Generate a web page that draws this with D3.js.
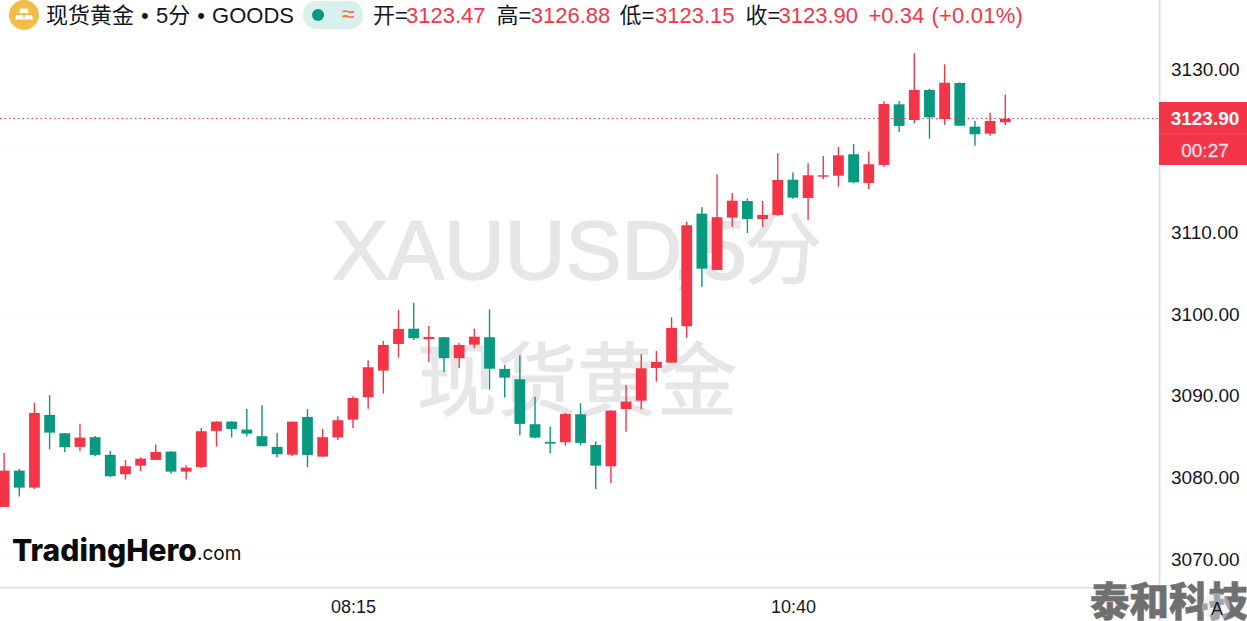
<!DOCTYPE html>
<html><head><meta charset="utf-8">
<script src="https://cdn.jsdelivr.net/npm/d3@7"></script>
<style>
html,body{margin:0;padding:0;background:#fff;overflow:hidden}
svg{display:block}
text{font-family:"Liberation Sans","Noto Sans CJK SC",sans-serif}
</style></head><body><svg id="c" width="1247" height="621"></svg>
<script>
const opens =[3076.32,3080.77,3078.69,3087.60,3085.35,3083.68,3084.87,3082.70,3080.33,3081.38,3082.08,3083.10,3080.65,3081.22,3085.64,3086.78,3085.80,3084.99,3083.68,3082.73,3087.35,3082.49,3084.84,3087.02,3089.77,3093.03,3096.30,3098.17,3096.88,3097.12,3094.55,3096.21,3097.12,3093.24,3091.97,3086.46,3084.29,3084.25,3087.68,3083.92,3081.31,3088.33,3089.35,3093.36,3094.01,3098.47,3112.27,3105.37,3111.78,3113.82,3111.62,3112.11,3116.43,3114.19,3116.80,3116.92,3119.55,3116.03,3118.24,3125.67,3123.75,3127.43,3123.87,3128.28,3122.93,3122.07,3123.47];
const highs =[3082.94,3080.98,3089.10,3090.01,3085.39,3086.53,3085.02,3083.19,3082.08,3082.41,3083.96,3083.15,3081.43,3086.00,3086.83,3086.83,3088.33,3088.79,3085.39,3086.78,3088.30,3085.88,3087.44,3089.89,3094.30,3096.67,3100.47,3101.36,3098.51,3097.16,3096.42,3098.17,3100.55,3093.73,3094.91,3089.84,3086.16,3087.84,3089.03,3084.38,3088.17,3091.27,3095.04,3095.44,3099.57,3111.25,3113.05,3117.10,3114.80,3114.15,3113.82,3119.67,3117.34,3118.44,3119.34,3120.44,3120.81,3119.89,3126.04,3126.08,3131.92,3127.55,3130.58,3128.37,3123.66,3124.65,3126.88];
const lows  =[3076.32,3077.59,3078.53,3083.39,3083.03,3083.15,3082.54,3080.00,3079.67,3080.70,3082.08,3080.40,3079.67,3081.07,3083.71,3084.82,3084.94,3083.76,3082.37,3082.57,3081.19,3082.45,3084.53,3086.00,3088.37,3090.21,3094.62,3096.79,3094.09,3092.87,3093.32,3095.77,3090.70,3089.72,3085.11,3084.74,3082.90,3083.84,3083.88,3078.49,3079.26,3085.55,3088.25,3091.68,3094.01,3097.07,3103.32,3105.37,3110.67,3109.90,3110.64,3111.98,3114.10,3111.50,3116.48,3115.58,3115.99,3115.29,3118.03,3122.28,3123.35,3121.46,3123.17,3123.05,3120.60,3121.83,3123.15];
const closes=[3080.77,3078.69,3087.84,3085.43,3083.64,3084.82,3082.70,3080.09,3081.31,3082.24,3083.06,3080.65,3081.14,3085.60,3086.78,3085.88,3085.31,3083.76,3082.78,3086.78,3082.70,3084.87,3086.95,3089.68,3093.44,3096.18,3098.14,3097.00,3097.16,3094.55,3096.18,3097.19,3093.27,3092.17,3086.50,3084.82,3084.08,3087.72,3084.17,3081.38,3088.13,3089.23,3093.32,3094.09,3098.26,3110.85,3105.53,3111.83,3113.86,3111.62,3112.11,3116.40,3114.23,3116.97,3116.97,3119.42,3116.11,3118.32,3125.71,3123.02,3127.43,3124.08,3128.32,3123.05,3122.00,3123.63,3123.90];
const priceTicks=[3070,3080,3090,3100,3110,3120,3130];
const timeTickIndex=[23,52];
const timeTickLabels=["08:15","10:40"];
const lastPrice=3123.90;
const countdown="00:27";
const headerTitle="现货黄金 • 5分 • GOODS";
const ohlcKeys=["开=","高=","低=","收="];
const ohlcValues=["3123.47","3126.88","3123.15","3123.90"];
const changeAbs="+0.34";
const changePct="(+0.01%)";

const RED="#f43548",GREEN="#089981",AXIS="#dfe2ec",WM="#e6e6e8";
const svg=d3.select("#c");
const x=d3.scaleLinear().domain([0,66]).range([4.1,1005.3]);
const y=d3.scaleLinear().domain([3070,3130]).range([558.5,69]);

// faint grid
svg.append("g").selectAll("line").data(priceTicks).join("line")
  .attr("x1",0).attr("x2",1159).attr("y1",d=>y(d)).attr("y2",d=>y(d)).attr("stroke","#fdfdfd");

// watermarks
const wm=svg.append("g").attr("fill",WM).attr("stroke",WM);
wm.append("text").attr("x",332).attr("y",279).attr("font-size",84).attr("stroke-width",1.6).text("XAUUSD");
wm.append("text").attr("x",672).attr("y",279).attr("font-size",84).attr("stroke-width",1.6).text(",");
wm.append("text").attr("x",700).attr("y",279).attr("font-size",84).attr("stroke-width",1.6).text("5");
wm.append("text").attr("x",744).attr("y",278).attr("font-size",78).attr("stroke-width",1).text("分");
wm.append("text").attr("x",417).attr("y",409).attr("font-size",80).attr("stroke-width",1.2).text("现货黄金");

// candles
const idx=d3.range(opens.length);
const col=i=>closes[i]>=opens[i]?RED:GREEN;
svg.append("g").selectAll("line").data(idx).join("line")
  .attr("x1",i=>x(i)).attr("x2",i=>x(i)).attr("y1",i=>y(highs[i])).attr("y2",i=>y(lows[i]))
  .attr("stroke",col).attr("stroke-width",1.4);
svg.append("g").selectAll("rect").data(idx).join("rect")
  .attr("x",i=>x(i)-5.4).attr("width",10.8)
  .attr("y",i=>y(Math.max(opens[i],closes[i])))
  .attr("height",i=>Math.max(1,Math.abs(y(opens[i])-y(closes[i]))))
  .attr("fill",col);

// last price line
const ly=Math.floor(y(lastPrice))+0.5;
svg.append("line").attr("x1",0).attr("x2",1159).attr("y1",ly).attr("y2",ly)
  .attr("stroke",RED).attr("stroke-width",1).attr("stroke-dasharray","1.5 3");

// axes
svg.append("rect").attr("x",0).attr("y",587).attr("width",1159).attr("height",1.5).attr("fill",AXIS);
svg.append("rect").attr("x",1158.5).attr("y",0).attr("width",2).attr("height",621).attr("fill",AXIS);

const yAxis=svg.append("g").attr("transform","translate(1171,0)")
  .call(d3.axisRight(y).tickValues(priceTicks).tickSize(0).tickPadding(0).tickFormat(d3.format(".2f")));
yAxis.select(".domain").remove();
yAxis.selectAll("text").attr("font-size",19).attr("fill","#131722")
  .style("font-family",'"Liberation Sans"').attr("dy","0.35em");
const xAxis=svg.append("g").attr("transform","translate(0,600)")
  .call(d3.axisBottom(x).tickValues(timeTickIndex).tickSize(0).tickPadding(0).tickFormat((d,i)=>timeTickLabels[i]));
xAxis.select(".domain").remove();
xAxis.selectAll("text").attr("font-size",18).attr("fill","#131722")
  .style("font-family",'"Liberation Sans"').attr("dy","0.71em");

// price label
svg.append("rect").attr("x",1159).attr("y",102).attr("width",88).attr("height",63).attr("fill",RED);
svg.append("line").attr("x1",1159).attr("x2",1247).attr("y1",134).attr("y2",134).attr("stroke","#f4505d");
svg.append("text").attr("x",1205).attr("y",125).attr("text-anchor","middle").attr("font-size",19).attr("font-weight",700).attr("fill","#fff").text(d3.format(".2f")(lastPrice));
svg.append("text").attr("x",1205).attr("y",157).attr("text-anchor","middle").attr("font-size",19)
  .attr("fill","#fcdde0").attr("stroke","#fcdde0").attr("stroke-width",0.35).text(countdown);

// header
svg.append("circle").attr("cx",24).attr("cy",15).attr("r",15).attr("fill","#f0bd45");
const gold=svg.append("g").attr("fill","#fff");
gold.append("path").attr("d","M20.5 8.5h7l1.2 4.5h-9.4z");
gold.append("path").attr("d","M16 15h7l1 4.5h-9z");
gold.append("path").attr("d","M25 15h7l1 4.5h-9z");
svg.append("text").attr("x",46).attr("y",23).attr("font-size",22).attr("word-spacing",1).attr("fill","#131722").text(headerTitle);
svg.append("rect").attr("x",303).attr("y",1).attr("width",60).attr("height",28).attr("rx",13).attr("fill","#daf0ec");
svg.append("circle").attr("cx",318).attr("cy",15).attr("r",6).attr("fill",GREEN);
svg.append("text").attr("x",348).attr("y",22).attr("text-anchor","middle").attr("font-size",24).attr("fill","#ff6d3f").text("≈");
const keyX=[373,496.5,619.5,745.5], valX=[406,530.7,655,778.5];
ohlcKeys.forEach((k,i)=>{
  svg.append("text").attr("x",keyX[i]).attr("y",23).attr("font-size",22).attr("fill","#131722").text(k);
  svg.append("text").attr("x",valX[i]).attr("y",23).attr("font-size",22).attr("fill",RED).text(ohlcValues[i]);
});
svg.append("text").attr("x",868.5).attr("y",23).attr("font-size",22).attr("fill",RED).text(changeAbs);
svg.append("text").attr("x",931.5).attr("y",23).attr("font-size",22).attr("letter-spacing",0.2).attr("fill",RED).text(changePct);

// logo
svg.append("text").attr("x",12).attr("y",561).attr("font-size",30).attr("font-weight",800)
  .style("font-family","Inter").attr("fill","#0c0c0c").text("TradingHero");
svg.append("text").attr("x",197).attr("y",560).attr("font-size",19)
  .style("font-family","Inter").attr("fill","#0c0c0c").text(".com");

// bottom-right overlay
svg.append("text").attr("x",1090).attr("y",616).attr("font-size",39.5).attr("font-weight",900)
  .style("font-family",'"Noto Sans CJK SC"').attr("fill","#707070").attr("stroke","#707070").attr("stroke-width",0.6).text("泰和科技");
svg.append("circle").attr("cx",1216).attr("cy",607).attr("r",14).attr("fill","#e0e3eb").attr("fill-opacity",0.45);
svg.append("text").attr("x",1217).attr("y",615).attr("text-anchor","middle").attr("font-size",18).attr("fill","#131722").text("A");
</script></body></html>
